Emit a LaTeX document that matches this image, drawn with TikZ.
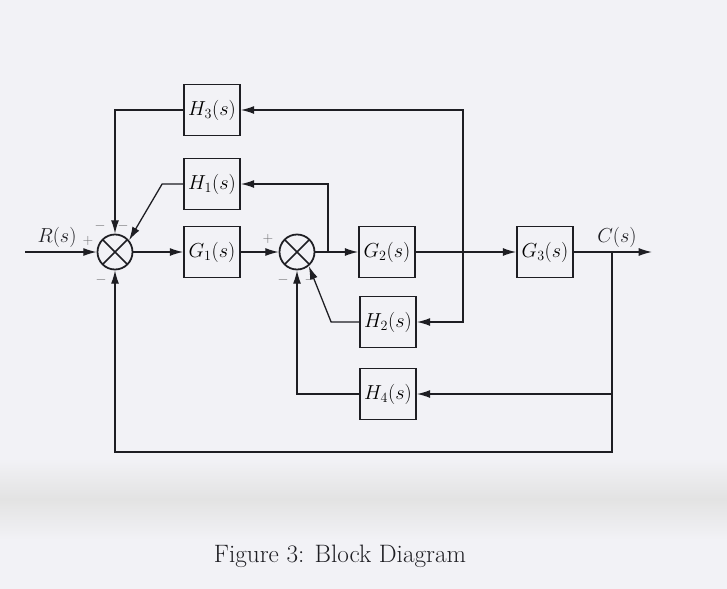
\documentclass[tikz,border=0pt]{standalone}
\usepackage{amsmath}
\usepackage{xcolor}
\usepackage{tikz}
\usetikzlibrary{arrows.meta,positioning,calc}
\definecolor{paper}{RGB}{242,242,246}
\definecolor{ink}{RGB}{30,30,35}

\begin{document}
\begin{tikzpicture}[x=0.03cm,y=-0.03cm,>={Latex[length=4mm,width=2.4mm]},
  line width=1.1pt,draw=ink,
  block/.style={draw=ink,line width=1.5pt,minimum width=1.68cm,minimum height=1.53cm,inner sep=0pt,font=\fontsize{18.5}{22}\selectfont,fill=paper},
  sumj/.style={circle,draw=ink,line width=1.5pt,minimum size=1.05cm,inner sep=0pt,
    path picture={\draw[ink,line width=1.5pt] (path picture bounding box.north west) -- (path picture bounding box.south east)
      (path picture bounding box.north east) -- (path picture bounding box.south west);}},
  sgn/.style={font=\fontsize{13}{14}\selectfont,text=ink!65},
  lbl/.style={font=\fontsize{18.5}{22}\selectfont,text=ink}]
\fill[paper] (0,0) rectangle (727,589);
\shade[top color=paper,bottom color=paper,middle color=black!11] (0,458) rectangle (727,540);
\useasboundingbox (0,0) rectangle (727,589);
% summing junctions
\node[sumj] (sum1) at (115,252) {};
\node[sumj] (sum2) at (297,252) {};
% forward blocks
\node[block] (g1) at (212,252) {$G_1(s)$};
\node[block] (g2) at (387,252) {$G_2(s)$};
\node[block] (g3) at (545,252) {$G_3(s)$};
% feedback blocks
\node[block] (h3) at (212,110) {$H_3(s)$};
\node[block] (h1) at (212,184) {$H_1(s)$};
\node[block] (h2) at (388,322) {$H_2(s)$};
\node[block] (h4) at (388,394) {$H_4(s)$};
% branch points
\coordinate (in) at (25,252);
\coordinate (out) at (652,252);
\coordinate (b1) at (328,252);
\coordinate (b2) at (463,252);
\coordinate (b3) at (612,252);
\coordinate (low) at (612,452);
% forward path
\draw[->] (in) -- (sum1);
\draw[->] (sum1) -- (g1);
\draw[->] (g1) -- (sum2);
\draw[->] (sum2) -- (g2);
\draw[->] (g2) -- (g3);
\draw[->] (g3) -- (out);
% feedback loops
\draw[->] (b1) |- (h1);
\draw[->] (h1.west) -- ++(-21,0) -- (sum1.40);
\draw[->] (b2) |- (h3);
\draw[->] (h3.west) -| (sum1);
\draw[->] (b2) |- (h2);
\draw[->] (h2.west) -- ++(-28,0) -- (sum2.-50);
\draw[->] (b3) |- (h4);
\draw[->] (h4.west) -| (sum2);
\draw[->] (b3) -- (low) -| (sum1);
% signals and signs
\node[lbl] (rs) at (57,237) {$R(s)$};
\node[lbl] (cs) at (617,237) {$C(s)$};
\node[sgn] (p1) at (88,241) {$+$};
\node[sgn] (m1) at (100,226) {$-$};
\node[sgn] (m2) at (123,226) {$-$};
\node[sgn] (m3) at (101,280) {$-$};
\node[sgn] (p2) at (268,239) {$+$};
\node[sgn] (m4) at (283,280) {$-$};
\node[sgn] (m5) at (310,280) {$-$};
% caption
\node[font=\fontsize{21.5}{24}\selectfont,text=ink] (cap) at (340,556) {Figure 3: Block Diagram};
\end{tikzpicture}
\end{document}
